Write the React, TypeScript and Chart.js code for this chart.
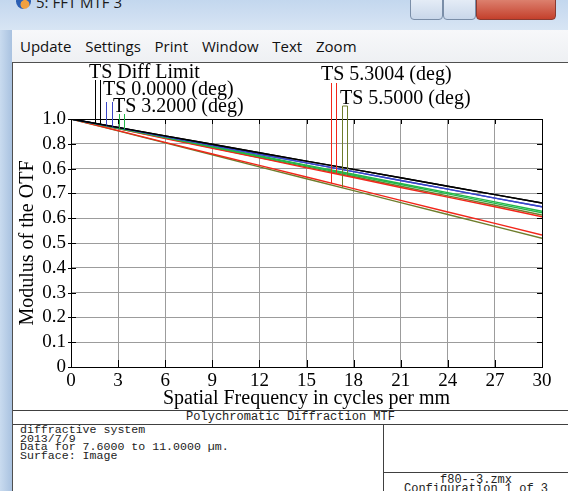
import React, { useEffect, useRef } from "react";
import { Chart, registerables } from "chart.js";

Chart.register(...registerables);

// ---------------- data ----------------
const freq = [0, 3, 6, 9, 12, 15, 18, 21, 24, 27, 30];
const xTickLabels = ["0", "3", "6", "9", "12", "15", "18", "21", "24", "27", "30"];
// y tick labels from bottom (0) to top (1.0), as printed in the original
const yTickLabels = ["0", "0.1", "0.2", "0.3", "0.4", "0.5", "0.6", "0.7", "0.6", "0.8", "1.0"];

const diffLimit = [1.0, 0.966, 0.932, 0.898, 0.864, 0.83, 0.797, 0.763, 0.729, 0.695, 0.661];
const field00 = [1.0, 0.965, 0.929, 0.894, 0.858, 0.823, 0.788, 0.752, 0.717, 0.681, 0.646];
const field32T = [1.0, 0.963, 0.926, 0.889, 0.852, 0.814, 0.777, 0.74, 0.703, 0.666, 0.628];
const field32S = [1.0, 0.962, 0.925, 0.887, 0.849, 0.811, 0.773, 0.736, 0.698, 0.66, 0.622];
const field53T = [1.0, 0.961, 0.921, 0.882, 0.843, 0.803, 0.764, 0.724, 0.685, 0.646, 0.606];
const field53S = [1.0, 0.953, 0.906, 0.859, 0.813, 0.766, 0.719, 0.672, 0.625, 0.579, 0.532];
const field55T = [1.0, 0.961, 0.923, 0.884, 0.845, 0.807, 0.768, 0.729, 0.69, 0.652, 0.613];
const field55S = [1.0, 0.952, 0.904, 0.856, 0.807, 0.759, 0.711, 0.663, 0.615, 0.567, 0.519];

const fieldLabels = ["TS Diff Limit", "TS 0.0000 (deg)", "TS 3.2000 (deg)", "TS 5.3004 (deg)", "TS 5.5000 (deg)"];

const menuItems = ["Update", "Settings", "Print", "Window", "Text", "Zoom"];
const footerTitle = "Polychromatic Diffraction MTF";
const footerLines = ["diffractive system", "2013/7/9", "Data for 7.6000 to 11.0000 \u00b5m.", "Surface: Image"];
const fileLines = ["f80--3.zmx", "Configuration 1 of 3"];

const BLACK = "#000000";
const BLUE = "#3a46c8";
const GREEN = "#22b84a";
const RED = "#f2261a";
const OLIVE = "#6e7d2c";

const toPts = (arr: number[]) => arr.map((y, i) => ({ x: freq[i], y }));

function interp(arr: number[], x: number) {
  for (let i = 0; i < freq.length - 1; i++) {
    if (x >= freq[i] && x <= freq[i + 1]) {
      const t = (x - freq[i]) / (freq[i + 1] - freq[i]);
      return arr[i] + t * (arr[i + 1] - arr[i]);
    }
  }
  return arr[arr.length - 1];
}

const legendDefs = [
  { text: fieldLabels[0], dx: 18, dy: -46, mx: [1.53, 1.82], top: -39, series: [diffLimit, diffLimit], color: BLACK, box: false },
  { text: fieldLabels[1], dx: 32, dy: -29, mx: [2.23, 2.64], top: -17, series: [field00, field00], color: BLUE, box: false },
  { text: fieldLabels[2], dx: 42, dy: -12, mx: [3.06, 3.38], top: -5, series: [field32S, field32T], color: GREEN, box: false },
  { text: fieldLabels[3], dx: 250, dy: -44, mx: [16.56, 16.91], top: -36, series: [field53S, field53T], color: RED, box: false },
  { text: fieldLabels[4], dx: 269, dy: -20, mx: [17.23, 17.55], top: -13, series: [field55S, field55T], color: OLIVE, box: true },
];

const framePlugin = {
  id: "zemaxFrame",
  afterDraw(chart: any) {
    const { ctx, chartArea: a, scales } = chart;
    const xs = scales.x;
    const ys = scales.y;
    ctx.save();
    // inner tick marks
    ctx.strokeStyle = "#000";
    ctx.lineWidth = 1;
    ctx.beginPath();
    freq.forEach((f) => {
      const px = Math.round(xs.getPixelForValue(f)) + 0.5;
      ctx.moveTo(px, a.bottom);
      ctx.lineTo(px, a.bottom - 7);
      ctx.moveTo(px, a.top);
      ctx.lineTo(px, a.top + 5);
    });
    for (let i = 0; i <= 10; i++) {
      const py = Math.round(ys.getPixelForValue(i / 10)) + 0.5;
      ctx.moveTo(a.left - 3, py);
      ctx.lineTo(a.left + 5, py);
      ctx.moveTo(a.right, py);
      ctx.lineTo(a.right - 5, py);
    }
    ctx.stroke();
    // frame
    ctx.strokeRect(Math.round(a.left) + 0.5, Math.round(a.top) + 0.5, Math.round(a.right - a.left), Math.round(a.bottom - a.top));

    // legend annotations with marker lines down to each curve
    ctx.font = "20px 'Liberation Serif', 'Times New Roman', serif";
    ctx.textBaseline = "middle";
    ctx.textAlign = "left";
    legendDefs.forEach((d) => {
      ctx.fillStyle = "#000";
      ctx.fillText(d.text, a.left + d.dx, a.top + d.dy);
      ctx.strokeStyle = d.color;
      ctx.beginPath();
      const topY = a.top + d.top;
      d.mx.forEach((mx, k) => {
        const px = Math.round(xs.getPixelForValue(mx)) + 0.5;
        const py = ys.getPixelForValue(interp(d.series[k], mx));
        ctx.moveTo(px, topY);
        ctx.lineTo(px, py);
      });
      if (d.box) {
        const p0 = Math.round(xs.getPixelForValue(d.mx[0])) + 0.5;
        const p1 = Math.round(xs.getPixelForValue(d.mx[1])) + 0.5;
        ctx.moveTo(p0, topY);
        ctx.lineTo(p1, topY);
      }
      ctx.stroke();
    });

    // axis titles
    ctx.fillStyle = "#000";
    ctx.font = "20px 'Liberation Serif', 'Times New Roman', serif";
    ctx.textAlign = "center";
    ctx.textBaseline = "middle";
    ctx.fillText("Spatial Frequency in cycles per mm", (a.left + a.right) / 2, a.bottom + 32);
    ctx.translate(a.left - 43, (a.top + a.bottom) / 2);
    ctx.rotate(-Math.PI / 2);
    ctx.fillText("Modulus of the OTF", 0, 0);
    ctx.restore();
  },
};

function ChartCanvas() {
  const ref = useRef<HTMLCanvasElement>(null);
  useEffect(() => {
    if (!ref.current) return;
    const mk = (label: string, data: number[], color: string) => ({
      label,
      data: toPts(data),
      borderColor: color,
      backgroundColor: color,
      borderWidth: 1.4,
      pointRadius: 0,
      tension: 0,
      fill: false,
    });
    const chart = new Chart(ref.current, {
      type: "line",
      data: {
        datasets: [
          mk("Diff Limit T", diffLimit, BLACK),
          mk("Diff Limit S", diffLimit, BLACK),
          mk("0.0000 T", field00, BLUE),
          mk("0.0000 S", field00, BLUE),
          mk("3.2000 T", field32T, GREEN),
          mk("3.2000 S", field32S, GREEN),
          mk("5.3004 T", field53T, RED),
          mk("5.3004 S", field53S, RED),
          mk("5.5000 T", field55T, OLIVE),
          mk("5.5000 S", field55S, OLIVE),
        ],
      },
      options: {
        animation: false,
        responsive: false,
        maintainAspectRatio: false,
        layout: { padding: { left: 0, right: 26, top: 56, bottom: 0 } },
        plugins: { legend: { display: false }, tooltip: { enabled: false }, title: { display: false } },
        scales: {
          x: {
            type: "linear",
            min: 0,
            max: 30,
            afterFit: (s: any) => {
              s.height = 42;
            },
            afterBuildTicks: (s: any) => {
              s.ticks = freq.map((v) => ({ value: v }));
            },
            afterTickToLabelConversion: (s: any) => {
              s.ticks.forEach((t: any, i: number) => {
                t.label = xTickLabels[i];
              });
            },
            ticks: {
              autoSkip: false,
              maxRotation: 0,
              padding: 3,
              color: "#000",
              font: { family: "'Liberation Serif', 'Times New Roman', serif", size: 19 },
            },
            grid: { color: "#9c9c9c", lineWidth: 1, drawTicks: false },
            border: { display: false },
          },
          y: {
            type: "linear",
            min: 0,
            max: 1,
            afterFit: (s: any) => {
              s.width = 58;
            },
            afterBuildTicks: (s: any) => {
              s.ticks = yTickLabels.map((_, i) => ({ value: i / 10 }));
            },
            afterTickToLabelConversion: (s: any) => {
              s.ticks.forEach((t: any, i: number) => {
                t.label = yTickLabels[i];
              });
            },
            ticks: {
              autoSkip: false,
              padding: 5,
              color: "#000",
              font: { family: "'Liberation Serif', 'Times New Roman', serif", size: 19 },
            },
            grid: { color: "#9c9c9c", lineWidth: 1, drawTicks: false },
            border: { display: false },
          },
        },
      },
      plugins: [framePlugin],
    } as any);
    return () => chart.destroy();
  }, []);
  return (
    <canvas
      ref={ref}
      width={555}
      height={346}
      style={{ position: "absolute", left: 13, top: 63, width: 555, height: 346 }}
    />
  );
}

const mono = "'Liberation Mono', 'Courier New', monospace";

export default function App() {
  return (
    <div
      style={{
        position: "fixed",
        left: 0,
        top: 0,
        width: 568,
        height: 491,
        overflow: "hidden",
        background: "#ffffff",
        fontFamily: "'Open Sans', 'Noto Sans', sans-serif",
      }}
    >
      {/* title bar */}
      <div style={{ position: "absolute", left: 0, top: 0, width: 568, height: 30, background: "linear-gradient(#c3d7ee, #d8e5f4)" }} />
      <div
        style={{
          position: "absolute",
          left: 16,
          top: -6,
          width: 15,
          height: 15,
          borderRadius: 8,
          background: "radial-gradient(circle at 60% 70%, #f0a040 0 30%, #2b5fb4 35%)",
        }}
      />
      <div style={{ position: "absolute", left: 36, top: -8, fontSize: 15, color: "#1a1a1a", whiteSpace: "pre" }}>5: FFT MTF 3</div>
      {/* caption buttons */}
      <div style={{ position: "absolute", left: 410, top: -4, width: 33, height: 24, border: "1px solid #7a8ea8", borderRadius: 4, background: "linear-gradient(#e8eff8, #c9d7ea)", boxSizing: "border-box" }} />
      <div style={{ position: "absolute", left: 443, top: -4, width: 33, height: 24, border: "1px solid #7a8ea8", borderRadius: 4, background: "linear-gradient(#e8eff8, #c9d7ea)", boxSizing: "border-box" }} />
      <div style={{ position: "absolute", left: 476, top: -4, width: 80, height: 24, border: "1px solid #8a3a30", borderRadius: 4, background: "linear-gradient(#e08a78, #c4402c)", boxSizing: "border-box" }} />
      {/* left window frame */}
      <div style={{ position: "absolute", left: 0, top: 30, width: 12, height: 461, background: "linear-gradient(90deg, #c9dbef, #a9c2e0)" }} />
      {/* menu bar */}
      <div style={{ position: "absolute", left: 12, top: 30, width: 556, height: 32, background: "linear-gradient(#f7f8fa, #eef0f3)" }} />
      <div style={{ position: "absolute", left: 20, top: 36, fontSize: 15, color: "#111", whiteSpace: "pre", wordSpacing: 3 }}>
        {menuItems.join("  ")}
      </div>
      {/* panel border */}
      <div style={{ position: "absolute", left: 12, top: 62, width: 556, height: 1, background: "#505050" }} />
      <div style={{ position: "absolute", left: 12, top: 62, width: 1, height: 429, background: "#505050" }} />

      <ChartCanvas />

      {/* footer */}
      <div style={{ position: "absolute", left: 13, top: 410, width: 555, height: 1, background: "#404040" }} />
      <div style={{ position: "absolute", left: 13, top: 411, width: 555, height: 13, lineHeight: "13px", textAlign: "center", fontFamily: mono, fontSize: 12, color: "#222" }}>
        {footerTitle}
      </div>
      <div style={{ position: "absolute", left: 13, top: 424, width: 555, height: 1, background: "#404040" }} />
      <div style={{ position: "absolute", left: 20, top: 426, fontFamily: mono, fontSize: 11.6, lineHeight: "8.5px", color: "#222", whiteSpace: "pre" }}>
        {footerLines.map((l, i) => (
          <div key={i} style={{ height: 8.5 }}>
            {l}
          </div>
        ))}
      </div>
      <div style={{ position: "absolute", left: 383, top: 424, width: 1, height: 67, background: "#404040" }} />
      <div style={{ position: "absolute", left: 383, top: 472, width: 185, height: 1, background: "#404040" }} />
      {fileLines.map((l, i) => (
        <div
          key={i}
          style={{ position: "absolute", left: 384, top: 476 + i * 9, width: 184, height: 9, lineHeight: "9px", textAlign: "center", fontFamily: mono, fontSize: 12, color: "#222", whiteSpace: "pre" }}
        >
          {l}
        </div>
      ))}
    </div>
  );
}
